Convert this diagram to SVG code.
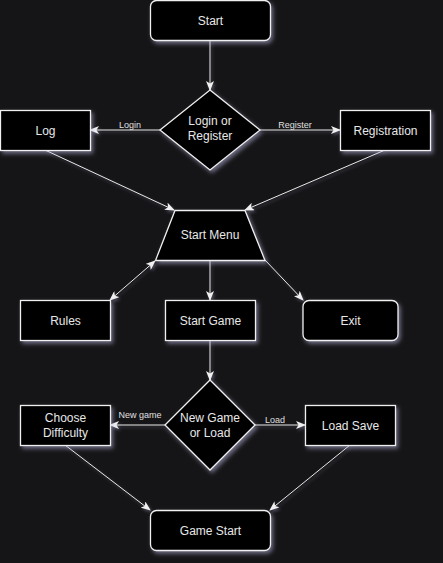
<svg xmlns="http://www.w3.org/2000/svg" width="443" height="563" viewBox="0 0 443 563">
<defs>
<filter id="glow" x="-30%" y="-30%" width="160%" height="160%">
<feDropShadow dx="2" dy="2.5" stdDeviation="2" flood-color="#b8b8e0" flood-opacity="0.55"/>
</filter>
<filter id="eglow" filterUnits="userSpaceOnUse" x="0" y="0" width="443" height="563">
<feDropShadow dx="1.5" dy="2" stdDeviation="1.5" flood-color="#a0a0c8" flood-opacity="0.4"/>
</filter>
<marker id="arr" viewBox="0 0 10 8" refX="9" refY="4" markerWidth="10" markerHeight="8" markerUnits="userSpaceOnUse" orient="auto-start-reverse">
<path d="M0,0 L10,4 L0,8 L2.5,4 z" fill="#f0f0f0"/>
</marker>
<style>
.n{fill:#000;stroke:#f0f0f0;stroke-width:1.3;filter:url(#glow)}
.t{font-family:"Liberation Sans",Arial,sans-serif;font-size:12px;fill:#e8e8e8;text-anchor:middle}
.l{font-family:"Liberation Sans",Arial,sans-serif;font-size:9px;fill:#e0e0e0;text-anchor:middle}
.e{fill:none;stroke:#e8e8e8;stroke-width:1;filter:url(#eglow)}
.ea{marker-end:url(#arr)}
</style>
</defs>
<rect width="443" height="563" fill="#151416"/>
<g id="edges">
<line class="e ea" x1="210" y1="40" x2="210" y2="90"/>
<line class="e ea" x1="160" y1="130" x2="90" y2="130"/>
<line class="e ea" x1="260" y1="130" x2="340" y2="130"/>
<line class="e ea" x1="45" y1="150" x2="174" y2="210"/>
<line class="e ea" x1="385" y1="150" x2="245" y2="210"/>
<line class="e ea" x1="110" y1="300" x2="155" y2="261" marker-start="url(#arr)"/>
<line class="e ea" x1="210" y1="260" x2="210" y2="300"/>
<line class="e ea" x1="265" y1="260" x2="303" y2="300"/>
<line class="e ea" x1="210" y1="340" x2="210" y2="380"/>
<line class="e ea" x1="165" y1="425" x2="110" y2="425"/>
<line class="e ea" x1="255" y1="425" x2="305" y2="425"/>
<line class="e ea" x1="65" y1="445" x2="150" y2="510"/>
<line class="e ea" x1="350" y1="445" x2="270" y2="510"/>
<text class="l" x="130" y="128">Login</text>
<text class="l" x="295" y="128">Register</text>
<text class="l" x="140" y="418">New game</text>
<text class="l" x="275" y="423">Load</text>
</g>
<g id="start"><rect class="n" x="150.5" y="0.5" width="120" height="40" rx="6"/><text class="t" x="210.5" y="24.5">Start</text></g>
<g id="loginOrRegister"><path class="n" d="M210,90 L260,130 L210,170 L160,130 Z"/><text class="t" x="210" y="125">Login or</text><text class="t" x="210" y="140">Register</text></g>
<g id="log"><rect class="n" x="0.5" y="110.5" width="90" height="40"/><text class="t" x="45.5" y="134.5">Log</text></g>
<g id="registration"><rect class="n" x="340.5" y="110.5" width="90" height="40"/><text class="t" x="385.5" y="134.5">Registration</text></g>
<g id="startMenu"><path class="n" d="M175,210.5 L245,210.5 L265,260.5 L155.5,260.5 Z"/><text class="t" x="210" y="239">Start Menu</text></g>
<g id="rules"><rect class="n" x="20.5" y="300.5" width="90" height="40"/><text class="t" x="65.5" y="324.5">Rules</text></g>
<g id="startGame"><rect class="n" x="165.5" y="300.5" width="90" height="40"/><text class="t" x="210.5" y="324.5">Start Game</text></g>
<g id="exit"><rect class="n" x="303" y="300.5" width="95" height="40" rx="6"/><text class="t" x="350.5" y="324.5">Exit</text></g>
<g id="newGameOrLoad"><path class="n" d="M210,380 L255,425 L210,470 L165,425 Z"/><text class="t" x="210" y="422">New Game</text><text class="t" x="210" y="437">or Load</text></g>
<g id="chooseDifficulty"><rect class="n" x="20.5" y="405.5" width="90" height="40"/><text class="t" x="65.5" y="422">Choose</text><text class="t" x="65.5" y="437">Difficulty</text></g>
<g id="loadSave"><rect class="n" x="305.5" y="405.5" width="90" height="40"/><text class="t" x="350.5" y="429.5">Load Save</text></g>
<g id="gameStart"><rect class="n" x="150.5" y="510.5" width="120" height="40" rx="6"/><text class="t" x="210.5" y="534.5">Game Start</text></g>
</svg>
